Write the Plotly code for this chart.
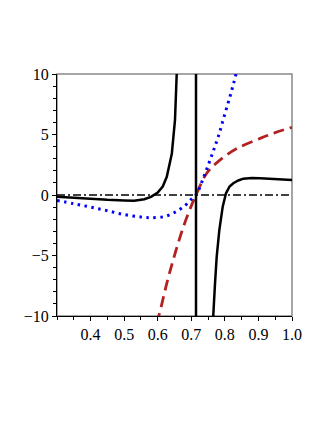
import plotly.graph_objects as go

# Black solid curve (two branches around the pole near x = 0.714)
black_x = [0.30, 0.35, 0.40, 0.45, 0.50, 0.53, 0.56, 0.58, 0.60, 0.615, 0.627, 0.642, 0.6515,
           0.655, 0.658, 0.662, 0.67, 0.69, 0.714,
           0.7141, 0.73, 0.75, 0.76, 0.7656, 0.7707, 0.7757, 0.7835, 0.7936, 0.8034, 0.814,
           0.8252, 0.84, 0.855, 0.88, 0.9047, 0.95, 1.0]
black_y = [-0.15, -0.25, -0.33, -0.40, -0.45, -0.47, -0.35, -0.15, 0.2, 0.7, 1.5, 3.4, 6.2,
           7.8, 9.9, 12, 20, 60, 1000,
           -1000, -80, -25, -15, -9.9, -7.3, -5.1, -2.9, -0.96, 0.14, 0.7,
           0.97, 1.2, 1.35, 1.4, 1.38, 1.32, 1.25]

# Blue dotted curve
blue_x = [0.30, 0.35, 0.40, 0.45, 0.50, 0.55, 0.58, 0.62, 0.65, 0.68, 0.70, 0.714,
          0.74, 0.76, 0.78, 0.80, 0.82, 0.835, 0.85]
blue_y = [-0.45, -0.72, -1.0, -1.3, -1.62, -1.82, -1.88, -1.78, -1.45, -0.9, -0.35, 0.0,
          1.7, 3.2, 4.8, 6.7, 8.6, 10.2, 12.0]

# Red dashed curve
red_x = [0.595, 0.604, 0.627, 0.652, 0.677, 0.70, 0.714, 0.746, 0.786, 0.837, 0.907, 0.95, 1.0]
red_y = [-10.6, -9.9, -7.3, -4.8, -2.6, -0.9, 0.0, 1.8, 2.9, 3.86, 4.7, 5.15, 5.6]

# Zero reference line
zero_x = [0.3, 1.0]
zero_y = [0, 0]

x_ticks = [0.4, 0.5, 0.6, 0.7, 0.8, 0.9, 1.0]
x_ticklabels = ["0.4", "0.5", "0.6", "0.7", "0.8", "0.9", "1.0"]
y_ticks = [-10, -5, 0, 5, 10]
y_ticklabels = ["\u221210", "\u22125", "0", "5", "10"]

fig = go.Figure()
fig.add_trace(go.Scatter(x=zero_x, y=zero_y, mode="lines",
                         line=dict(color="black", width=1.5, dash="8px,3px,2px,3px")))
fig.add_trace(go.Scatter(x=red_x, y=red_y, mode="lines", line_shape="spline",
                         line=dict(color="#B22222", width=2.8, dash="11px,6px")))
fig.add_trace(go.Scatter(x=blue_x, y=blue_y, mode="lines", line_shape="spline",
                         line=dict(color="#0000FF", width=3, dash="2.5px,4.5px")))
fig.add_trace(go.Scatter(x=black_x, y=black_y, mode="lines",
                         line=dict(color="black", width=2.5)))

fig.add_shape(type="rect", xref="paper", yref="paper", x0=0, x1=1, y0=0, y1=1,
              line=dict(color="#888888", width=1.5), layer="below")

font = dict(family="Liberation Serif", size=16, color="black")
fig.update_layout(
    width=327, height=423,
    margin=dict(l=57, r=35, t=74, b=107),
    paper_bgcolor="white", plot_bgcolor="white",
    showlegend=False,
    xaxis=dict(range=[0.3, 1.0], showgrid=False, zeroline=False,
               showline=True, linecolor="black", linewidth=1.2,
               tickvals=x_ticks, ticktext=x_ticklabels, ticks="outside",
               ticklen=4, tickcolor="black", tickfont=font,
               minor=dict(tickvals=[0.3 + 0.05 * i for i in range(15)], ticks="outside",
                          ticklen=3, tickcolor="black")),
    yaxis=dict(range=[-10, 10], showgrid=False, zeroline=False,
               showline=True, linecolor="black", linewidth=1.2,
               tickvals=y_ticks, ticktext=y_ticklabels, ticks="outside",
               ticklen=4, tickcolor="black", tickfont=font,
               minor=dict(dtick=1, tick0=0, ticks="outside", ticklen=3, tickcolor="black")),
)

fig.write_html("out.html", config={"displayModeBar": False},
               post_script="document.body.style.margin='0';")
